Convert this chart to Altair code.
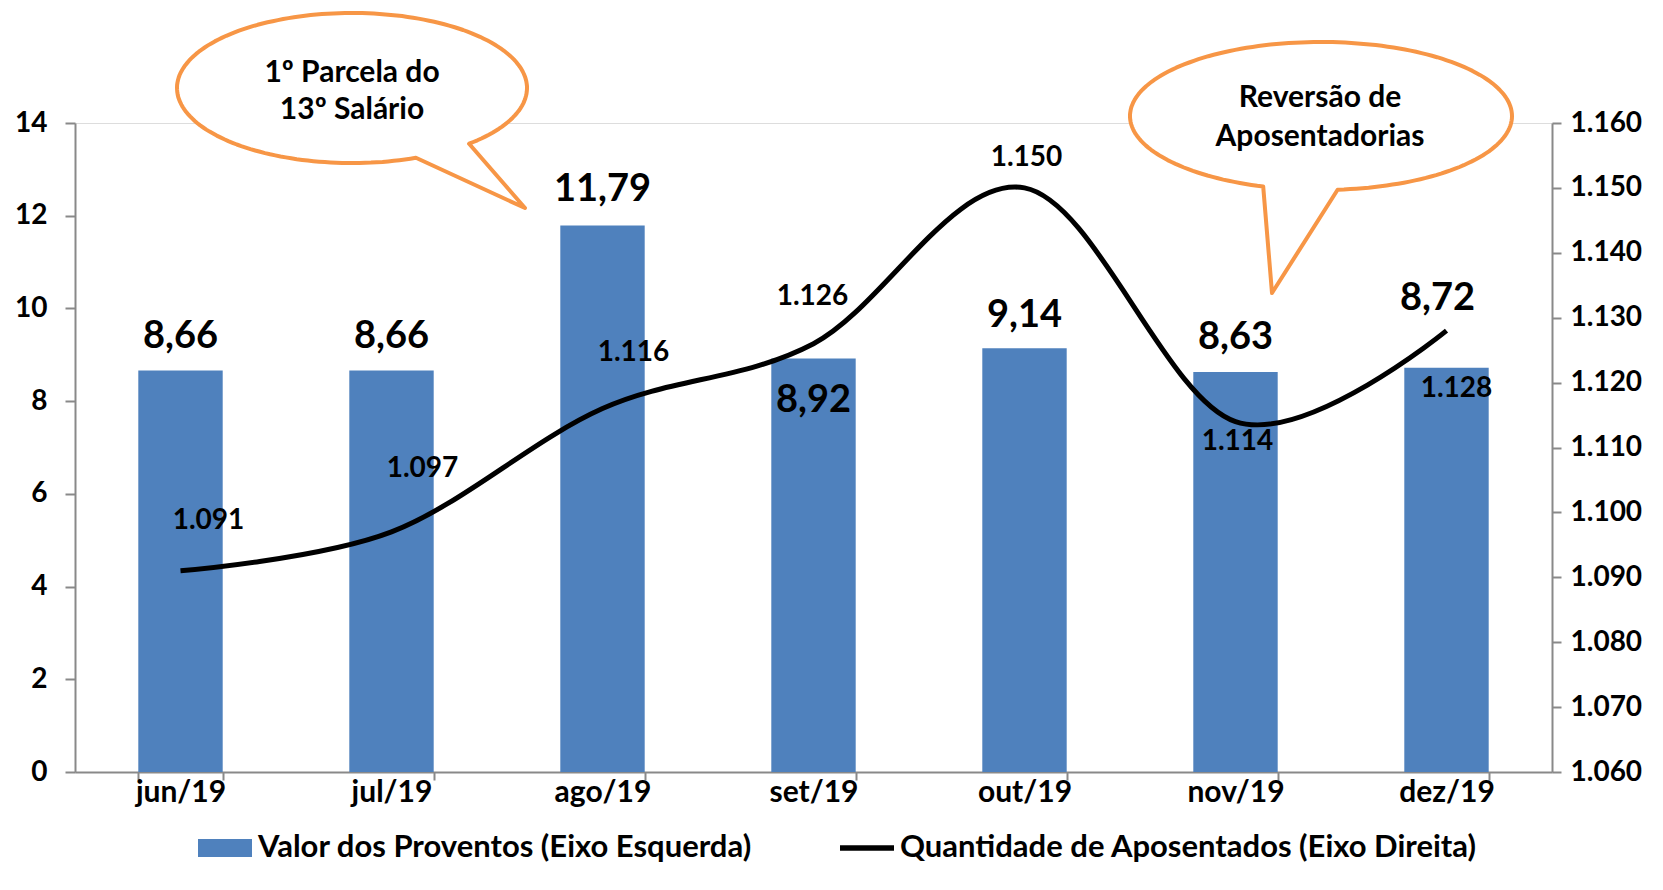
import altair as alt
import pandas as pd
import numpy as np

# ---------------- data ----------------
meses = ["jun/19", "jul/19", "ago/19", "set/19", "out/19", "nov/19", "dez/19"]
valor_proventos = [8.66, 8.66, 11.79, 8.92, 9.14, 8.63, 8.72]
qtd_aposentados = [1091, 1097, 1116, 1126, 1150, 1114, 1128]
ticks_esquerda = [0, 2, 4, 6, 8, 10, 12, 14]
ticks_direita = [1060, 1070, 1080, 1090, 1100, 1110, 1120, 1130, 1140, 1150, 1160]
serie_nomes = ["Valor dos Proventos (Eixo Esquerda)",
               "Quantidade de Aposentados (Eixo Direita)"]
balao_1 = ["1º Parcela do", "13º Salário"]
balao_2 = ["Reversão de", "Aposentadorias"]

# ---------------- style ----------------
BLUE = "#4F81BD"
ORANGE = "#F79646"
GRAY = "#898989"
FONT = "Lato"
W, H = 1477, 649

df = pd.DataFrame({"mes": meses, "valor": valor_proventos, "qtd": qtd_aposentados})
one = pd.DataFrame({"k": [0]})

x_enc = alt.X(
    "mes:N",
    scale=alt.Scale(domain=meses, paddingInner=0.6, paddingOuter=0.3),
    axis=alt.Axis(title=None, labelAngle=0, labelFont=FONT, labelFontSize=30,
                  labelFontWeight="bold", labelColor="black", domainColor=GRAY,
                  domainWidth=2, tickColor=GRAY, tickWidth=2, tickSize=8,
                  tickBand="extent", labelPadding=-3),
)
y_left = alt.Y(
    "valor:Q",
    scale=alt.Scale(domain=[0, 14], nice=False, zero=True),
    axis=alt.Axis(title=None, orient="left", values=ticks_esquerda, format="d",
                  labelFont=FONT, labelFontSize=28, labelFontWeight="bold",
                  labelColor="black", domainColor=GRAY, domainWidth=2,
                  tickColor=GRAY, tickWidth=2, tickSize=10, labelPadding=18,
                  grid=False),
)
y_right = alt.Y(
    "qtd:Q",
    scale=alt.Scale(domain=[1060, 1160], nice=False, zero=False),
    axis=alt.Axis(title=None, orient="right", values=ticks_direita,
                  labelExpr="replace(format(datum.value, ',d'), ',', '.')",
                  labelFont=FONT, labelFontSize=28, labelFontWeight="bold",
                  labelColor="black", domainColor=GRAY, domainWidth=2,
                  tickColor=GRAY, tickWidth=2, tickSize=9, labelPadding=9,
                  grid=False),
)

# ---------------- left (bars) ----------------
bars = alt.Chart(df).mark_bar(color=BLUE).encode(x=x_enc, y=y_left)

bar_label_offsets = {
    "jun/19": (0, -34), "jul/19": (0, -34), "ago/19": (0, -35),
    "set/19": (0, 43), "out/19": (0, -32), "nov/19": (0, -34),
    "dez/19": (-9, -69),
}
bar_labels = []
for m, (dx, dy) in bar_label_offsets.items():
    bar_labels.append(
        alt.Chart(df)
        .transform_filter(alt.datum.mes == m)
        .transform_calculate(rot="replace(format(datum.valor, '.2f'), '.', ',')")
        .mark_text(dx=dx, dy=dy, baseline="middle", align="center", font=FONT,
                   fontSize=38, fontWeight="bold", color="black")
        .encode(x=x_enc, y=y_left, text="rot:N")
    )
left = alt.layer(bars, *bar_labels)

# ---------------- right (line) ----------------
line = alt.Chart(df).mark_line(color="black", strokeWidth=5,
                               interpolate="cardinal", tension=0).encode(x=x_enc, y=y_right)

line_label_offsets = {
    "jun/19": (28, -50), "jul/19": (31, -63), "ago/19": (31, -56),
    "set/19": (-1, -47), "out/19": (2, -30), "nov/19": (2, 20),
    "dez/19": (10, 58),
}
line_labels = []
for m, (dx, dy) in line_label_offsets.items():
    line_labels.append(
        alt.Chart(df)
        .transform_filter(alt.datum.mes == m)
        .transform_calculate(rot="replace(format(datum.qtd, ',d'), ',', '.')")
        .mark_text(dx=dx, dy=dy, baseline="middle", align="center", font=FONT,
                   fontSize=28, fontWeight="bold", color="black")
        .encode(x=x_enc, y=y_right, text="rot:N")
    )


# ---------------- callout bubbles ----------------
def bubble_path(rx, ry, a_start, a_end, tip, n=180):
    angs = np.radians(np.linspace(a_start, a_end, n))
    pts = [f"{rx*np.cos(t):.1f},{ry*np.sin(t):.1f}" for t in angs]
    return "M" + " L".join(pts) + f" L{tip[0]},{tip[1]} Z"


path1 = bubble_path(175, 75, 48, 68.6 - 360, (173, 120))
path2 = bubble_path(191, 74, 85, 107.6 - 360, (-49, 177))

bubbles = []
for path, cx, cy in [(path1, 277, -35), (path2, 1246, -7)]:
    bubbles.append(
        alt.Chart(one).mark_point(shape=path, size=4, filled=True, fill="white",
                                  stroke=ORANGE, strokeWidth=4, opacity=1,
                                  strokeJoin="round")
        .encode(x=alt.value(cx), y=alt.value(cy))
    )
bubble_texts = []
for linhas, cx, cy, lh in [(balao_1, 277, -41, 37), (balao_2, 1245, -16, 39)]:
    bubble_texts.append(
        alt.Chart(one).mark_text(align="center", baseline="alphabetic", font=FONT,
                                 fontSize=30, fontWeight="bold", color="black",
                                 lineHeight=lh)
        .encode(x=alt.value(cx), y=alt.value(cy), text=alt.value(linhas))
    )

# ---------------- legend ----------------
rect_path = "M-1,-0.333 H1 V0.333 H-1 Z"
line_path = "M-1,-0.1 H1 V0.1 H-1 Z"
leg_cfg = alt.Legend(title=None, orient="none", legendX=123, legendY=698,
                     direction="horizontal", symbolSize=2916, symbolStrokeWidth=0,
                     symbolOpacity=1, labelFont=FONT, labelFontSize=31,
                     labelFontWeight="bold", labelColor="black", labelLimit=1000,
                     labelOffset=6, columnPadding=88, padding=0)
legend_df = pd.DataFrame({"serie": serie_nomes})
legend_layer = alt.Chart(legend_df).mark_point(filled=True, opacity=0).encode(
    x=alt.value(0), y=alt.value(0),
    color=alt.Color("serie:N", scale=alt.Scale(domain=serie_nomes, range=[BLUE, "black"]),
                    legend=leg_cfg),
    shape=alt.Shape("serie:N", scale=alt.Scale(domain=serie_nomes, range=[rect_path, line_path]),
                    legend=leg_cfg),
)

right = alt.layer(line, *line_labels, *bubbles, *bubble_texts, legend_layer)

chart = (
    alt.layer(left, right)
    .resolve_scale(y="independent")
    .properties(width=W, height=H,
                autosize=alt.AutoSizeParams(type="none"),
                padding={"left": 67, "top": 115, "right": 103, "bottom": 110})
    .configure_view(strokeWidth=0)
    .configure(background="white")
)

chart.save("out.html", embed_options={"renderer": "svg", "actions": False})
